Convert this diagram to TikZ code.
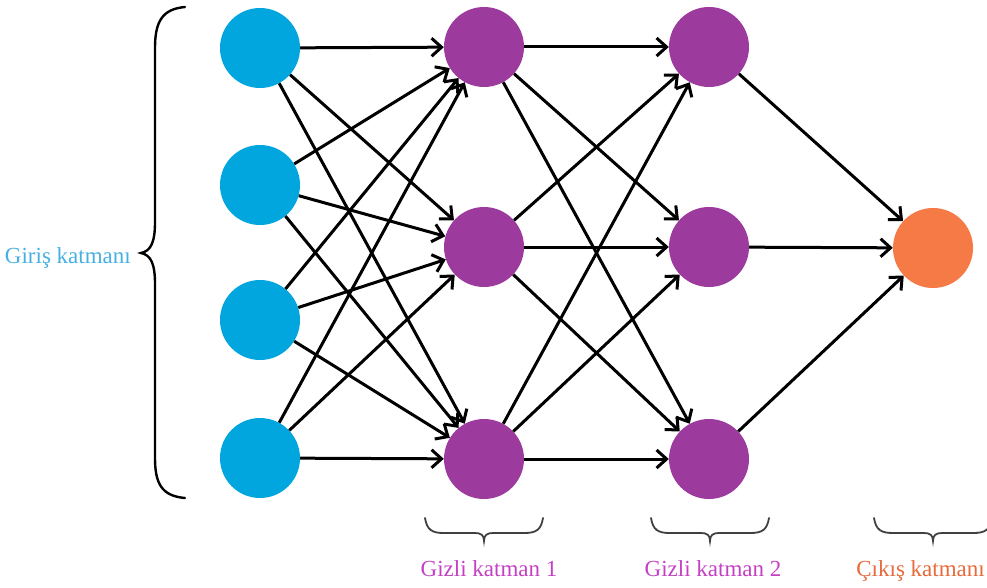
\documentclass[tikz,border=0pt]{standalone}
\usepackage{fontspec}
\setmainfont{Liberation Serif}
\usetikzlibrary{arrows.meta}

\definecolor{inblue}{RGB}{0,166,221}
\definecolor{hidpurple}{RGB}{156,58,158}
\definecolor{outorange}{RGB}{245,122,69}
\definecolor{inlabel}{RGB}{70,176,226}
\definecolor{hidlabel}{RGB}{196,64,196}
\definecolor{outlabel}{RGB}{230,106,60}

\begin{document}
\begin{tikzpicture}[x=1pt,y=-1pt,
  neuron/.style={circle,minimum size=80pt,inner sep=0pt},
  innode/.style={neuron,fill=inblue},
  hidnode/.style={neuron,fill=hidpurple},
  outnode/.style={neuron,fill=outorange},
  link/.style={draw=black,line width=3pt,-{Straight Barb[length=10pt,width=18pt]}},
  bigbrace/.style={draw=black,line width=2.4pt,line cap=round},
  smallbrace/.style={draw=black!75,line width=1.8pt,line cap=round},
  layerlabel/.style={font=\rmfamily\fontsize{23}{27}\selectfont,inner sep=0pt}]

\useasboundingbox (0,0) rectangle (987,588);

% input layer
\node[innode] (i1) at (260,48) {};
\node[innode] (i2) at (260,185) {};
\node[innode] (i3) at (260,320) {};
\node[innode] (i4) at (260,458) {};
% first hidden layer
\node[hidnode] (h1) at (484,47) {};
\node[hidnode] (h2) at (484,247) {};
\node[hidnode] (h3) at (484,459) {};
% second hidden layer
\node[hidnode] (g1) at (709,47) {};
\node[hidnode] (g2) at (709,247) {};
\node[hidnode] (g3) at (709,459) {};
% output layer
\node[outnode] (o) at (933,248) {};

% connections
\foreach \a in {1,2,3,4}
  \foreach \b in {1,2,3}
    \draw[link] (i\a) -- (h\b);
\foreach \a in {1,2,3}
  \foreach \b in {1,2,3}
    \draw[link] (h\a) -- (g\b);
\foreach \a in {1,2,3}
  \draw[link] (g\a) -- (o);

% brace grouping the input layer
\coordinate (lb1) at (185,7);
\coordinate (lb2) at (141,253);
\coordinate (lb3) at (185,498);
\draw[bigbrace] (lb1) .. controls (162,9) and (155,22) .. (155,48)
  -- (155,222) .. controls (155,242) and (151,251) .. (lb2)
  .. controls (151,255) and (155,264) .. (155,284)
  -- (155,458) .. controls (155,484) and (162,496) .. (lb3);
\node[layerlabel,text=inlabel,anchor=base east] (lin) at (131,263) {Giriş katmanı};

% braces under the other layers
\foreach \c/\n in {484/b1,710/b2,933/b3}{
  \coordinate (\n) at (\c,541);
  \draw[smallbrace] (\c-59,518) .. controls (\c-57,530) and (\c-52,533) .. (\c-40,533)
    -- (\c-9,533) .. controls (\c-3,533) and (\c,535) .. (\n)
    .. controls (\c,535) and (\c+3,533) .. (\c+9,533)
    -- (\c+40,533) .. controls (\c+52,533) and (\c+57,530) .. (\c+59,518);
}
\node[layerlabel,text=hidlabel,anchor=base] (lh1) at (489,576) {Gizli katman 1};
\node[layerlabel,text=hidlabel,anchor=base] (lh2) at (713,576) {Gizli katman 2};
\node[layerlabel,text=outlabel,anchor=base east] (lo) at (985,576) {Çıkış katmanı};
\end{tikzpicture}
\end{document}
